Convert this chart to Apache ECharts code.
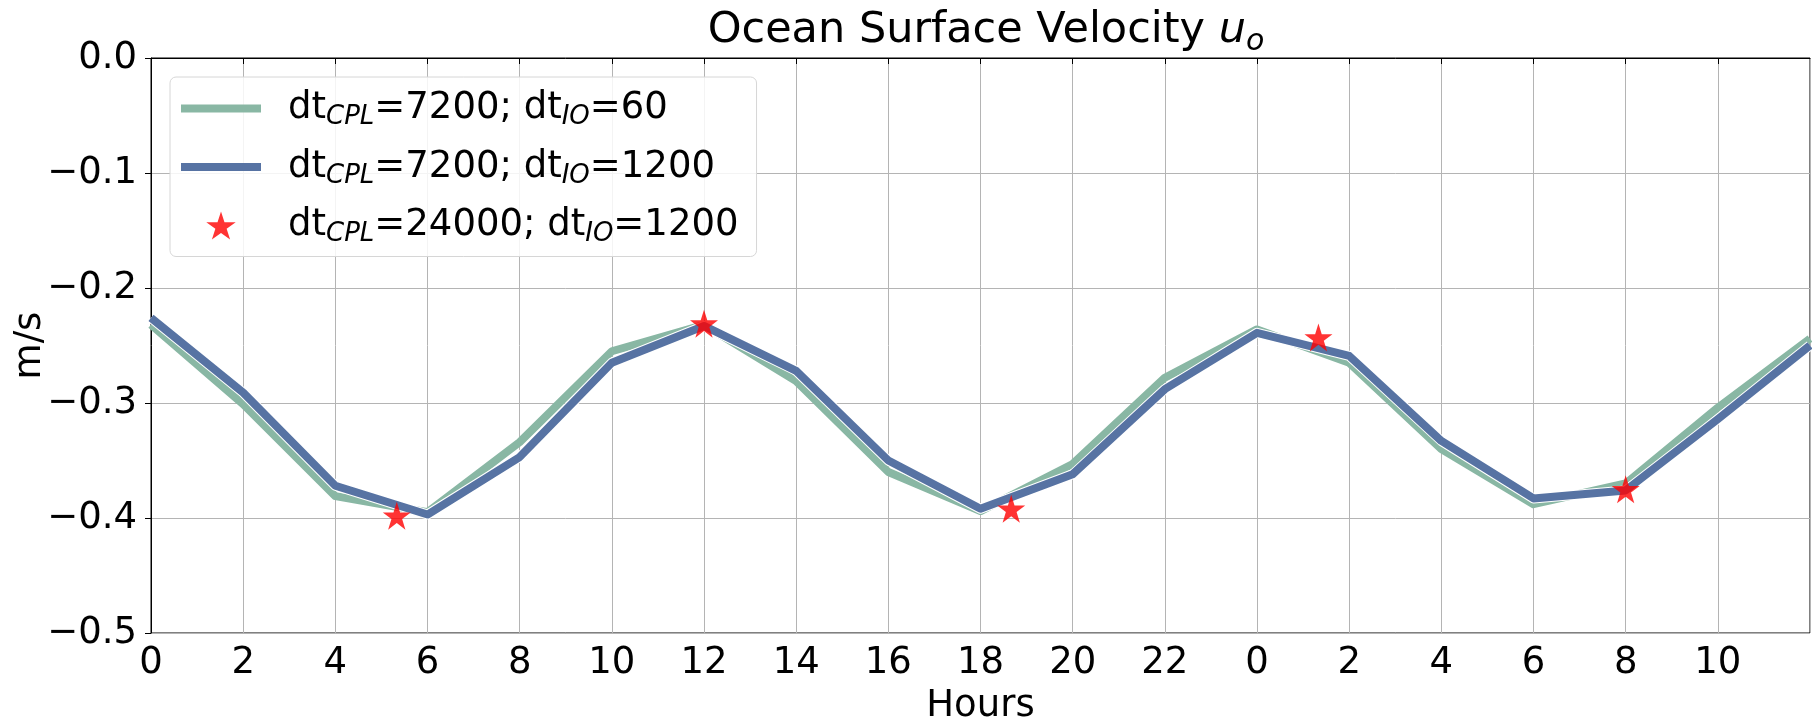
<!DOCTYPE html>
<html>
<head>
<meta charset="utf-8">
<script src="https://cdn.jsdelivr.net/npm/echarts@6/dist/echarts.min.js"></script>
<style>
  html, body { margin: 0; padding: 0; background: #fff; }
  #chart { width: 1812px; height: 720px; }
</style>
</head>
<body>
<div id="chart"></div>
<script>
  // hours since start, coupling output every 2 h
  const hours = [0, 2, 4, 6, 8, 10, 12, 14, 16, 18, 20, 22, 24, 26, 28, 30, 32, 34, 36]
  const uIO60 = [-0.232, -0.301, -0.381, -0.395, -0.334, -0.255, -0.232, -0.281, -0.360, -0.394,
    -0.353, -0.278, -0.236, -0.265, -0.340, -0.388, -0.370, -0.304, -0.244]
  const uIO1200 = [-0.226, -0.291, -0.372, -0.397, -0.347, -0.265, -0.233, -0.272, -0.350, -0.392,
    -0.362, -0.288, -0.239, -0.259, -0.333, -0.383, -0.376, -0.314, -0.250]
  // long coupling step: one value every 24000 s
  const starHours = [16 / 3, 12, 56 / 3, 76 / 3, 32]
  const starValues = [-0.398, -0.231, -0.392, -0.243, -0.375]

  const names = ['cpl7200_io60', 'cpl7200_io1200', 'cpl24000_io1200']
  const labels = {
    cpl7200_io60: '{t|dt}{s|CPL}{t|=7200; dt}{s|IO}{t|=60}',
    cpl7200_io1200: '{t|dt}{s|CPL}{t|=7200; dt}{s|IO}{t|=1200}',
    cpl24000_io1200: '{t|dt}{s|CPL}{t|=24000; dt}{s|IO}{t|=1200}'
  }

  const FONT = 'DejaVu Sans'
  const FS = 37
  const GREEN = '#89b7a4'
  const BLUE = '#5773a3'
  const RED = '#ff0000'
  const STAR = 'path://M50 0L61.23 34.55L97.55 34.55L68.17 55.9L79.39 90.45L50 69.1L20.61 90.45L31.83 55.9L2.45 34.55L38.77 34.55Z'
  const BAR = 'path://M0 0H80V8H0Z'

  const pairs = (xs, ys) => xs.map((x, i) => [x, ys[i]])
  const minus = (v) => (v < 0 ? '\u2212' : '') + Math.abs(v).toFixed(1)

  const chart = echarts.init(document.getElementById('chart'), null, { renderer: 'canvas' })

  const option = {
    animation: false,
    textStyle: { fontFamily: FONT },
    title: {
      text: '{a|Ocean Surface Velocity }{u|u}{o|o}',
      left: 981,
      textAlign: 'center',
      top: 0,
      textStyle: {
        fontWeight: 'normal',
        rich: {
          a: { fontFamily: FONT, fontSize: 43, fontWeight: 'normal', color: '#000', lineHeight: 52 },
          u: { fontFamily: FONT, fontSize: 43, fontWeight: 'normal', fontStyle: 'italic', color: '#000', lineHeight: 52 },
          o: { fontFamily: FONT, fontSize: 30, fontWeight: 'normal', fontStyle: 'italic', color: '#000', lineHeight: 52, verticalAlign: 'bottom' }
        }
      }
    },
    legend: {
      orient: 'vertical',
      left: 170,
      top: 77,
      padding: [13, 18, 9, 11],
      itemWidth: 80,
      itemHeight: 28,
      itemGap: 18,
      backgroundColor: 'rgba(255,255,255,0.85)',
      borderColor: '#d6d6d6',
      borderWidth: 1,
      borderRadius: 6,
      data: [
        { name: names[0], icon: BAR },
        { name: names[1], icon: BAR },
        { name: names[2], icon: STAR }
      ],
      formatter: (name) => labels[name],
      textStyle: {
        padding: [0, 0, 0, 22],
        rich: {
          t: { fontFamily: FONT, fontSize: FS, color: '#000', lineHeight: 44 },
          s: { fontFamily: FONT, fontSize: 26, fontStyle: 'italic', color: '#000', lineHeight: 44, verticalAlign: 'bottom' }
        }
      }
    },
    grid: {
      left: 151,
      right: 2,
      top: 58,
      bottom: 87,
      containLabel: false,
      outerBoundsMode: 'none',
      show: true,
      borderColor: '#000',
      borderWidth: 1
    },
    xAxis: {
      type: 'value',
      min: 0,
      max: 36,
      interval: 2,
      name: 'Hours',
      nameLocation: 'middle',
      nameGap: 55,
      nameMoveOverlap: false,
      nameTextStyle: { fontFamily: FONT, fontSize: FS, color: '#000' },
      axisLine: { lineStyle: { color: '#000', width: 1 } },
      axisTick: { show: true, length: 6, lineStyle: { color: '#000' } },
      axisLabel: {
        showMaxLabel: false,
        margin: 12,
        fontFamily: FONT,
        fontSize: FS,
        color: '#000',
        formatter: (v) => String(v % 24)
      },
      splitLine: { show: true, lineStyle: { color: '#b4b4b4', width: 1 } }
    },
    yAxis: {
      type: 'value',
      min: -0.5,
      max: 0,
      interval: 0.1,
      name: 'm/s',
      nameLocation: 'middle',
      nameGap: 102,
      nameMoveOverlap: false,
      nameTextStyle: { fontFamily: FONT, fontSize: FS, color: '#000' },
      axisLine: { show: true, lineStyle: { color: '#000', width: 1 } },
      axisTick: { show: true, length: 6, lineStyle: { color: '#000' } },
      axisLabel: {
        margin: 14,
        fontFamily: FONT,
        fontSize: FS,
        color: '#000',
        formatter: minus
      },
      splitLine: { show: true, lineStyle: { color: '#b4b4b4', width: 1 } }
    },
    series: [
      {
        name: names[0],
        type: 'line',
        data: pairs(hours, uIO60),
        showSymbol: false,
        color: GREEN,
        lineStyle: { color: GREEN, width: 8, join: 'round' },
        z: 2
      },
      {
        // thin white halo under the blue line
        name: 'halo',
        type: 'line',
        data: pairs(hours, uIO1200),
        showSymbol: false,
        silent: true,
        lineStyle: { color: '#ffffff', width: 10, join: 'round' },
        z: 3
      },
      {
        name: names[1],
        type: 'line',
        data: pairs(hours, uIO1200),
        showSymbol: false,
        color: BLUE,
        lineStyle: { color: BLUE, width: 8, join: 'round' },
        z: 4
      },
      {
        name: names[2],
        type: 'scatter',
        data: pairs(starHours, starValues),
        symbol: STAR,
        symbolSize: 28,
        color: RED,
        itemStyle: { color: RED },
        z: 5
      }
    ]
  }

  chart.setOption(option)
</script>
</body>
</html>
